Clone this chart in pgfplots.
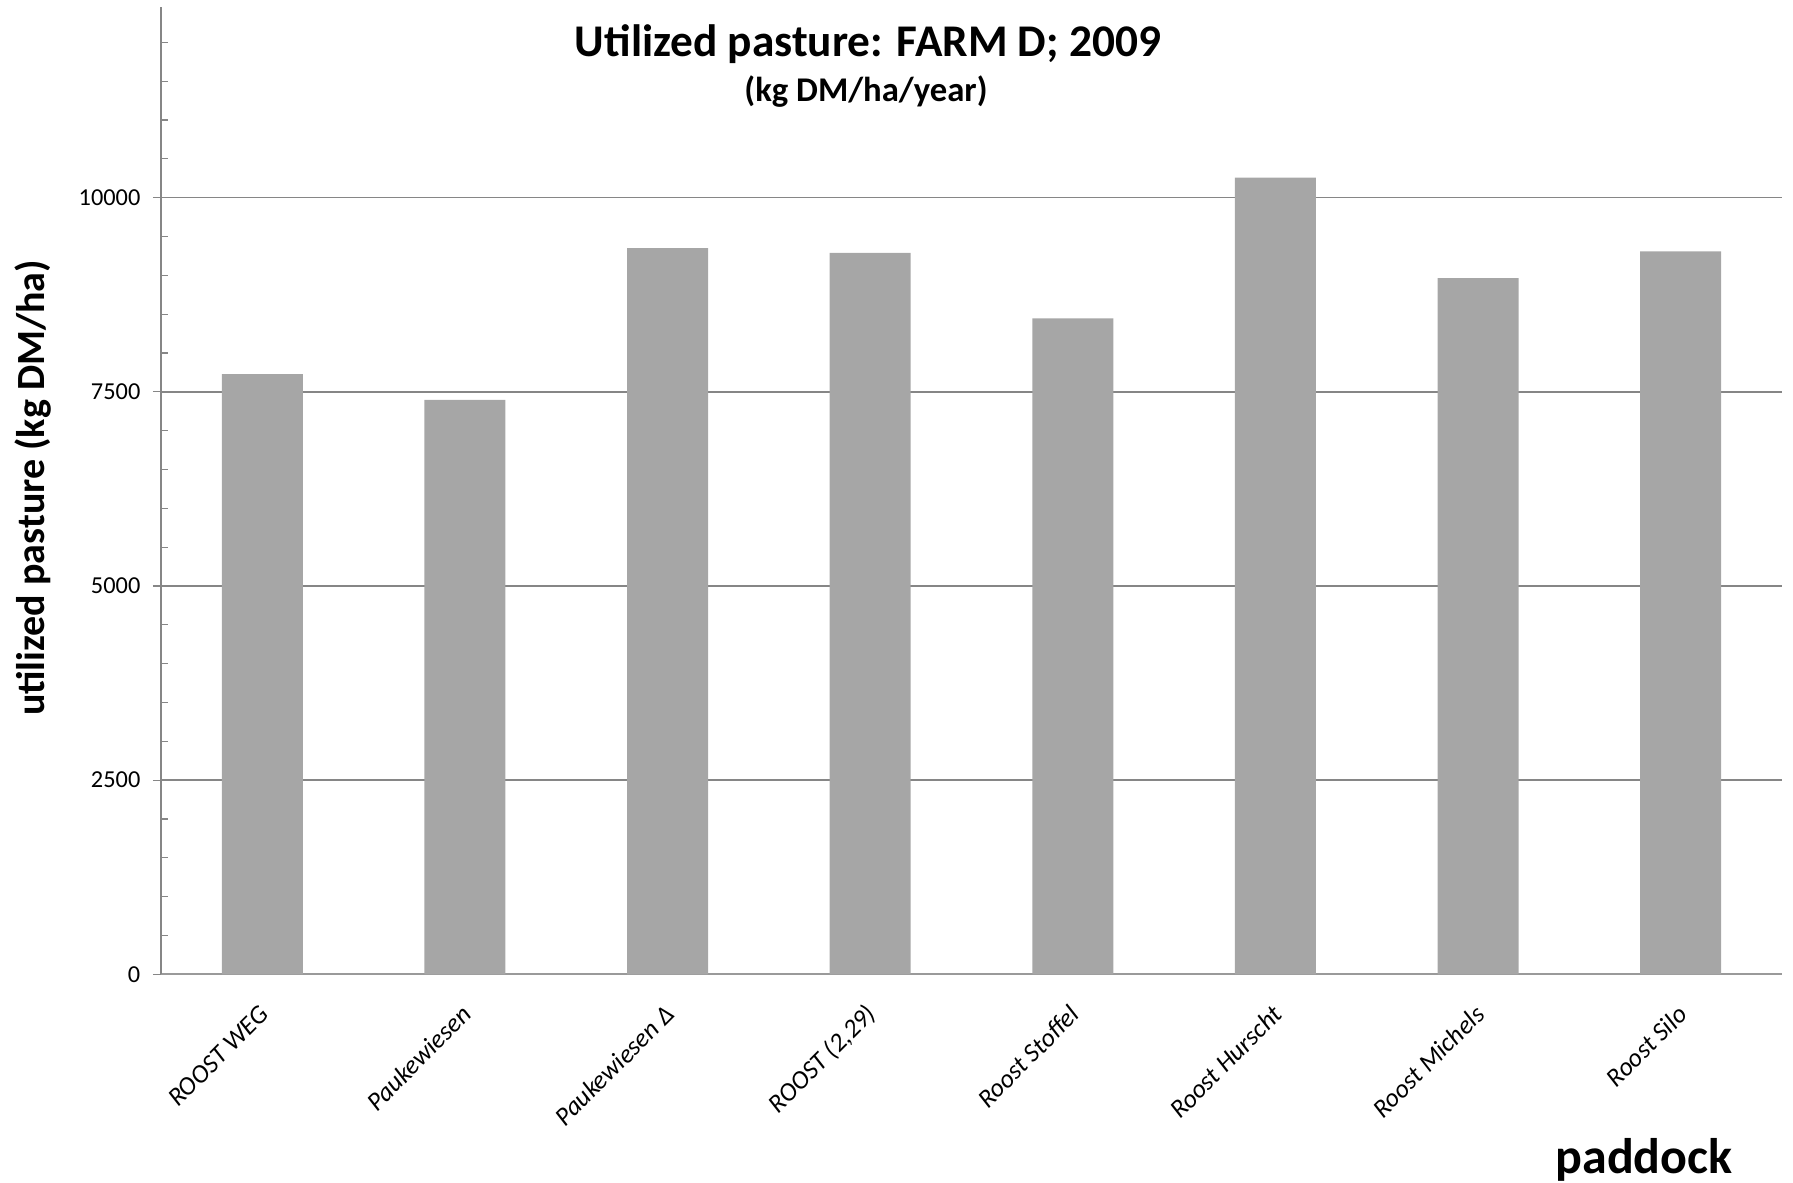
\documentclass[border=0pt]{standalone}
\usepackage{fontspec}
\setmainfont{Carlito}
\usepackage{pgfplots}
\pgfplotsset{compat=1.18}
\definecolor{barfill}{HTML}{A6A6A6}
\definecolor{gridc}{HTML}{868686}
\definecolor{xaxc}{HTML}{9A9A9A}
\begin{document}
\begin{tikzpicture}
\useasboundingbox (-48.3pt,-62.31pt) rectangle (489.6pt,292.29pt);
\begin{axis}[
  scale only axis,
  width=486.3pt, height=290.1pt,
  xmin=-0.5, xmax=7.5,
  ymin=0, ymax=12450,
  axis x line*=bottom,
  axis y line*=left,
  x axis line style={draw=xaxc, line width=0.6pt},
  y axis line style={draw=gridc, line width=0.35pt},
  xtick={0,...,7},
  xticklabels={{ROOST WEG}, {Paukewiesen}, {Paukewiesen Δ}, {ROOST (2,29)}, {Roost Stoffel}, {Roost Hurscht}, {Roost Michels}, {Roost Silo}},
  x tick style={draw=none},
  xticklabel style={xshift=1.4pt, yshift=-7.5pt, font=\fontsize{7.8}{9}\selectfont\itshape, rotate=45, anchor=east, inner sep=1pt},
  ytick={0,2500,5000,7500,10000},
  minor ytick={500,1000,1500,2000,3000,3500,4000,4500,5500,6000,6500,7000,8000,8500,9000,9500,10500,11000,11500,12000},
  y tick style={draw=gridc, line width=0.35pt},
  tick align=outside,
  major tick length=2.4pt,
  minor tick length=2.1pt,
  every minor tick/.append style={xshift=2.1pt},
  yticklabel style={font=\fontsize{7.3}{8}\selectfont, inner sep=0pt, anchor=east, xshift=-3.6pt},
  /pgf/number format/assume math mode=true,
  scaled y ticks=false,
  yticklabel={\pgfmathprintnumber[fixed, 1000 sep={}]{\tick}},
  ymajorgrids,
  major grid style={draw=gridc, line width=0.45pt},
  clip=false,
]
\addplot[ybar, bar width=24.3pt, fill=barfill, draw=none] coordinates {
  (0,7727) (1,7397) (2,9349) (3,9289) (4,8446) (5,10257) (6,8964) (7,9307)
};
\end{axis}
% titles and axis labels
\node[anchor=base, font=\fontsize{13.6}{16}\selectfont\bfseries] at (212.1pt,275.3pt) {Utilized pasture: FARM D; 2009};
\node[anchor=base, font=\fontsize{10.4}{12}\selectfont\bfseries] at (211.5pt,261.8pt) {(kg DM/ha/year)};
\node[rotate=90, anchor=center, font=\fontsize{12}{14}\selectfont\bfseries] at (-38.5pt,145.9pt) {utilized pasture (kg DM/ha)};
\node[anchor=base, font=\fontsize{15}{18}\selectfont\bfseries] at (444.9pt,-59.9pt) {paddock};
\end{tikzpicture}
\end{document}
